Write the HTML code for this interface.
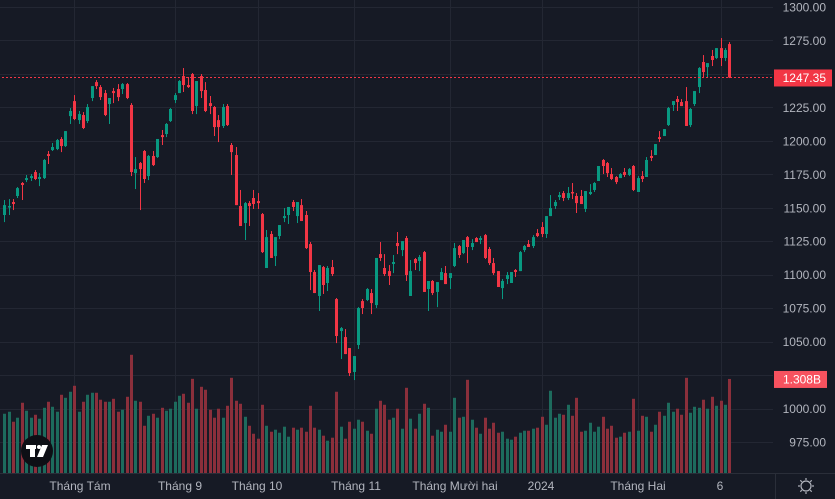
<!DOCTYPE html>
<html><head><meta charset="utf-8">
<style>
html,body{margin:0;padding:0;background:#161a25;}
svg{display:block;font-family:"Liberation Sans",sans-serif;}
</style></head>
<body>
<svg id="chart" width="835" height="499" viewBox="0 0 835 499" xmlns="http://www.w3.org/2000/svg">
<rect x="0" y="0" width="835" height="499" fill="#161a25"/>
<g id="grid"></g>
<g id="vols"></g>
<g id="candles"></g>
<g id="yaxis"></g>
<g id="xaxis"></g>
<line x1="0" y1="473.5" x2="835" y2="473.5" stroke="#2a2e39"/>
<line x1="775.5" y1="474" x2="775.5" y2="499" stroke="#2a2e39"/>
<g>
<circle cx="37" cy="451" r="16" fill="#0d0f15"/>
<rect x="26" y="445" width="10" height="4" fill="#fff"/><rect x="30" y="445" width="5" height="12" fill="#fff"/>
<circle cx="39" cy="447" r="2" fill="#fff"/><polygon points="42,445 48,445 43,457 37,457" fill="#fff"/>
</g>
<g transform="translate(806,486)">
<circle r="5" fill="none" stroke="#b2b5be" stroke-width="1.2"/>
<g stroke="#b2b5be" stroke-width="1.2"><line x1="0" y1="-8" x2="0" y2="-6"/><line x1="0" y1="6" x2="0" y2="8"/><line x1="-8" y1="0" x2="-6" y2="0"/><line x1="6" y1="0" x2="8" y2="0"/><line x1="-5.7" y1="-5.7" x2="-4.2" y2="-4.2"/><line x1="4.2" y1="4.2" x2="5.7" y2="5.7"/><line x1="-5.7" y1="5.7" x2="-4.2" y2="4.2"/><line x1="4.2" y1="-4.2" x2="5.7" y2="-5.7"/></g>
</g>
</svg>
<script>
const opens=[1144.6,1150.6,1154.3,1158.8,1168.5,1170.7,1172.2,1176.7,1171.5,1172.2,1190.1,1193.1,1193.9,1201.4,1196.1,1218.5,1229.7,1215.5,1219.3,1214.8,1232.0,1243.9,1240.2,1235.7,1227.5,1237.2,1238.7,1238.7,1242.4,1226.8,1175.9,1183.4,1192.4,1173.7,1188.7,1187.9,1204.3,1205.1,1214.8,1230.5,1235.7,1248.4,1241.7,1249.9,1226.0,1248.4,1238.0,1228.2,1225.3,1215.5,1211.1,1226.0,1196.9,1189.4,1151.3,1138.6,1153.5,1157.3,1155.0,1145.3,1105.0,1130.4,1113.9,1128.9,1142.3,1144.6,1154.3,1143.8,1152.0,1144.6,1122.9,1102.0,1084.1,1105.7,1093.8,1105.7,1081.8,1057.9,1053.4,1045.2,1027.3,1047.5,1080.3,1081.1,1086.3,1077.3,1115.4,1105.0,1102.7,1108.0,1123.7,1118.4,1127.4,1084.1,1111.7,1110.2,1116.9,1089.3,1095.3,1087.1,1096.0,1101.2,1097.5,1106.5,1121.4,1116.2,1128.1,1120.7,1127.4,1125.9,1129.6,1119.2,1108.7,1102.7,1090.0,1096.8,1093.8,1103.5,1102.7,1118.4,1122.9,1121.4,1131.1,1135.6,1130.4,1143.8,1151.3,1158.0,1161.0,1157.3,1161.8,1158.8,1158.8,1149.1,1160.3,1163.3,1170.0,1185.7,1183.4,1175.2,1173.0,1172.2,1176.7,1174.5,1181.2,1161.8,1173.7,1173.0,1188.7,1189.4,1202.8,1203.6,1211.8,1226.8,1231.2,1229.0,1229.7,1211.8,1227.5,1240.2,1258.9,1255.1,1263.4,1261.9,1269.3,1261.9,1272.3];
const highs=[1155.8,1156.5,1156.5,1165.5,1169.2,1174.5,1175.2,1178.2,1175.9,1186.4,1192.4,1198.4,1201.4,1202.8,1207.3,1224.5,1234.2,1222.3,1221.5,1227.5,1240.9,1245.4,1241.7,1238.0,1232.0,1239.5,1242.4,1243.2,1243.2,1228.2,1187.9,1184.2,1193.1,1189.4,1192.4,1201.4,1208.1,1213.3,1224.5,1235.7,1245.4,1254.4,1247.7,1250.7,1244.7,1249.9,1243.9,1233.5,1226.0,1219.3,1227.5,1227.5,1198.4,1195.4,1163.3,1154.3,1155.0,1163.3,1161.0,1146.1,1133.4,1132.6,1128.1,1137.1,1149.8,1150.6,1155.8,1154.3,1156.5,1147.6,1124.4,1103.5,1107.2,1106.5,1106.5,1111.0,1082.6,1060.9,1059.4,1045.2,1039.2,1075.8,1081.8,1090.0,1089.3,1112.5,1124.4,1115.4,1107.2,1114.7,1131.9,1125.1,1128.9,1111.0,1112.5,1114.7,1117.7,1095.3,1096.0,1094.5,1105.0,1106.5,1101.2,1123.7,1122.2,1125.9,1128.9,1126.6,1128.1,1128.9,1130.4,1120.7,1112.5,1102.7,1096.8,1102.0,1102.0,1104.2,1117.7,1122.2,1125.9,1129.6,1134.1,1139.3,1143.8,1159.5,1155.8,1161.8,1162.5,1165.5,1168.5,1161.0,1163.3,1162.5,1167.7,1169.2,1181.2,1186.4,1184.2,1179.7,1173.7,1175.9,1179.7,1179.7,1181.9,1173.7,1177.4,1187.9,1193.1,1197.6,1207.3,1208.8,1225.3,1229.7,1233.5,1231.2,1240.2,1224.5,1237.2,1255.1,1264.1,1258.1,1267.9,1269.3,1276.8,1269.3,1273.8];
const lows=[1139.3,1144.6,1148.3,1157.3,1155.8,1169.2,1170.0,1170.7,1166.2,1171.5,1182.7,1192.4,1193.1,1191.6,1195.4,1212.6,1215.5,1212.6,1208.8,1213.3,1229.7,1238.7,1230.5,1218.5,1212.6,1228.2,1229.7,1235.0,1231.2,1173.7,1164.0,1148.3,1168.5,1170.7,1181.2,1187.2,1196.9,1202.8,1214.1,1228.2,1235.7,1236.5,1239.5,1220.0,1220.0,1232.0,1221.5,1220.0,1203.6,1199.1,1209.6,1211.1,1174.5,1152.0,1136.4,1125.9,1136.4,1149.1,1149.1,1116.2,1105.0,1112.5,1106.5,1126.6,1139.3,1137.9,1147.6,1138.6,1140.1,1119.2,1088.5,1086.3,1072.9,1085.6,1087.8,1099.0,1048.9,1037.0,1040.7,1024.3,1021.3,1044.5,1070.6,1080.3,1070.6,1075.1,1110.2,1099.0,1092.3,1101.2,1115.4,1113.9,1095.3,1084.1,1103.5,1102.7,1087.1,1072.9,1084.8,1075.8,1096.0,1093.0,1089.3,1105.7,1112.5,1115.4,1108.7,1118.4,1124.4,1122.9,1111.7,1107.2,1099.8,1090.8,1081.8,1093.0,1093.8,1098.3,1102.7,1116.9,1120.7,1119.9,1128.1,1128.1,1127.4,1143.8,1149.1,1155.8,1155.0,1155.8,1156.5,1146.1,1152.8,1146.8,1159.5,1161.8,1170.0,1175.2,1173.0,1170.7,1167.7,1172.2,1173.0,1173.7,1162.5,1161.8,1169.2,1173.0,1184.9,1189.4,1199.1,1203.6,1211.1,1222.3,1222.3,1226.0,1211.1,1210.3,1226.0,1235.7,1246.9,1247.7,1255.9,1261.1,1255.9,1259.6,1246.9];
const closes=[1152.0,1151.3,1152.8,1164.7,1167.0,1172.2,1173.7,1171.5,1173.0,1185.7,1188.7,1195.4,1200.6,1196.1,1207.3,1222.3,1216.3,1220.0,1209.6,1225.3,1240.9,1240.9,1232.7,1219.3,1232.0,1235.7,1232.7,1242.4,1232.0,1176.7,1178.9,1178.9,1171.5,1188.7,1181.9,1201.4,1202.8,1212.6,1223.8,1234.2,1244.7,1241.7,1240.2,1222.3,1244.7,1237.2,1222.3,1226.0,1210.3,1210.3,1225.3,1211.8,1191.6,1152.0,1136.4,1153.5,1151.3,1152.8,1153.5,1116.9,1128.1,1112.5,1128.1,1137.1,1143.8,1150.6,1150.6,1154.3,1140.1,1119.9,1102.0,1086.3,1107.2,1092.3,1105.0,1100.5,1054.2,1060.1,1040.7,1026.5,1039.2,1075.1,1075.1,1089.3,1078.8,1112.5,1112.5,1100.5,1099.0,1109.5,1121.4,1125.1,1099.8,1102.7,1108.7,1113.2,1087.1,1095.3,1086.3,1094.5,1102.0,1093.0,1101.2,1119.9,1114.7,1125.9,1120.7,1123.7,1124.4,1127.4,1112.5,1108.7,1101.2,1090.8,1095.3,1099.8,1102.0,1102.0,1116.9,1121.4,1120.7,1128.1,1128.9,1130.4,1143.8,1149.8,1154.3,1159.5,1157.3,1161.0,1161.0,1153.5,1152.8,1162.5,1161.8,1168.5,1181.2,1181.2,1175.9,1171.5,1169.2,1175.2,1174.5,1178.9,1163.3,1172.2,1171.5,1185.7,1187.2,1197.6,1201.4,1208.8,1224.5,1229.7,1229.0,1226.0,1211.1,1223.8,1237.2,1254.4,1251.4,1258.1,1260.4,1269.3,1261.9,1267.9,1247.35];
const volumes=[824,852,713,769,977,866,769,810,755,907,991,921,852,1088,1046,1130,1213,852,991,1088,1116,1116,1019,991,991,1032,852,880,1060,1644,1005,991,657,796,824,769,907,866,894,991,1074,1102,977,1310,894,1199,1158,880,769,894,769,935,1324,1005,963,782,657,546,477,949,657,574,602,560,644,505,630,602,630,574,935,630,602,519,449,491,1130,644,477,713,616,741,713,588,546,894,1005,949,741,769,894,616,1185,755,616,824,963,907,519,602,574,671,574,1046,769,782,1296,741,630,546,769,616,699,560,574,477,463,505,560,588,588,616,630,782,671,1144,769,824,810,949,796,1046,574,588,699,574,644,782,616,657,491,505,560,574,1032,588,796,782,574,671,852,796,977,852,894,810,1324,838,921,907,1019,894,1060,935,1005,949,1308];
const priceTicks=[1300,1275,1225,1200,1175,1150,1125,1100,1075,1050,1000,975];
const gridPrices=[1300,1275,1250,1225,1200,1175,1150,1125,1100,1075,1050,1025,1000,975];
const monthLabels=["Tháng Tám","Tháng 9","Tháng 10","Tháng 11","Tháng Mười hai","2024","Tháng Hai","6"];
const monthBarIdx=[16,39,58,80,102,123,145,164];
const lastPrice=1247.35;
const lastVolumeLabel="1.308B";

const NS="http://www.w3.org/2000/svg";
const xOf=i=>4.3+i*4.3675;
const yOf=p=>7+(1300-p)*1.3385;
const vH=v=>v*0.0719;
const VBASE=473;
function mk(tag,attrs,parent){const e=document.createElementNS(NS,tag);for(const k in attrs)e.setAttribute(k,attrs[k]);parent.appendChild(e);return e;}
const grid=document.getElementById('grid'),vols=document.getElementById('vols'),cg=document.getElementById('candles'),ya=document.getElementById('yaxis'),xa=document.getElementById('xaxis'),svg=document.getElementById('chart');

gridPrices.forEach(p=>{const y=Math.round(yOf(p))+0.5;const l=mk('line',{x1:0,x2:773,y1:y,y2:y,stroke:'#232733'},grid);

});
monthBarIdx.forEach(i=>{const x=Math.round(xOf(i))+0.5;const l=mk('line',{x1:x,x2:x,y1:0,y2:473,stroke:'#232733'},grid);

});

volumes.forEach((v,i)=>{const up=closes[i]>=opens[i];const h=vH(v);const x=Math.round(xOf(i))-1;
const r=mk('rect',{x:x,y:VBASE-h,width:3,height:h,fill:up?'#1d6b5d':'#8b2f3b'},vols);

});

opens.forEach((o,i)=>{const c=closes[i],up=c>=o,col=up?'#089981':'#f23645';const xc=Math.round(xOf(i));
const g=mk('g',{},cg);


mk('rect',{x:xc,y:yOf(highs[i]),width:1,height:Math.max(1,yOf(lows[i])-yOf(highs[i])),fill:col},g);
const t=yOf(Math.max(o,c)),b=yOf(Math.min(o,c));
mk('rect',{x:xc-1,y:t,width:3,height:Math.max(1.5,b-t),fill:col},g);});

const ly=Math.round(yOf(lastPrice))+0.5;
const pl=mk('line',{x1:0,x2:773,y1:ly,y2:ly,stroke:'#f23645','stroke-width':'1','stroke-dasharray':'2 2','stroke-dashoffset':'2'},svg);



priceTicks.forEach(p=>{const t=mk('text',{x:826,y:yOf(p)+4.5,'text-anchor':'end','font-size':'12',fill:'#b2b5be'},ya);t.textContent=p.toFixed(2);

});

const lb=mk('g',{},ya);


mk('rect',{x:774,y:yOf(lastPrice)-8,width:58,height:17,fill:'#f23645'},lb);
const lt=mk('text',{x:826,y:yOf(lastPrice)+4.5,'text-anchor':'end','font-size':'12',fill:'#fff'},lb);lt.textContent=lastPrice.toFixed(2);

const vb=mk('g',{},ya);


const vy=VBASE-vH(volumes[volumes.length-1]);
mk('rect',{x:774,y:vy-8,width:53,height:17,fill:'#f7525f'},vb);
const vt=mk('text',{x:821,y:vy+4.5,'text-anchor':'end','font-size':'12',fill:'#fff'},vb);vt.textContent=lastVolumeLabel;

const labelX=[80,180,257,356,455,541,638,720];
monthLabels.forEach((m,i)=>{const t=mk('text',{x:labelX[i],y:490,'text-anchor':'middle','font-size':'12',fill:'#b2b5be'},xa);t.textContent=m;

});
</script>
</body></html>
